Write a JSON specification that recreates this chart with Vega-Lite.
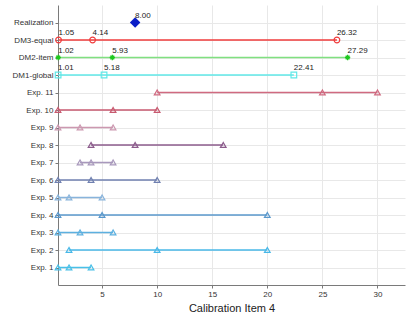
{
  "$schema": "https://vega.github.io/schema/vega-lite/v6.json",
  "width": 347,
  "height": 280,
  "autosize": {"type": "none"},
  "padding": {"left": 58, "top": 5, "right": 2, "bottom": 33},
  "background": "white",
  "config": {
    "font": "Liberation Sans",
    "view": {"stroke": null},
    "axis": {
      "domainColor": "#7a7a7a",
      "tickColor": "#7a7a7a",
      "gridColor": "#e8e8e8",
      "labelColor": "#333333",
      "labelFontSize": 8,
      "titleColor": "#222222",
      "titleFontWeight": "normal",
      "tickSize": 3
    }
  },
  "data": {
    "values": [
      {"row": "Realization", "grp": "real", "v": 8.0},
      {"row": "DM3-equal", "grp": "dm", "v": 1.05},
      {"row": "DM3-equal", "grp": "dm", "v": 4.14},
      {"row": "DM3-equal", "grp": "dm", "v": 26.32},
      {"row": "DM2-item", "grp": "dm", "v": 1.02},
      {"row": "DM2-item", "grp": "dm", "v": 5.93},
      {"row": "DM2-item", "grp": "dm", "v": 27.29},
      {"row": "DM1-global", "grp": "dm", "v": 1.01},
      {"row": "DM1-global", "grp": "dm", "v": 5.18},
      {"row": "DM1-global", "grp": "dm", "v": 22.41},
      {"row": "Exp. 11", "grp": "exp", "v": 10},
      {"row": "Exp. 11", "grp": "exp", "v": 25},
      {"row": "Exp. 11", "grp": "exp", "v": 30},
      {"row": "Exp. 10", "grp": "exp", "v": 1},
      {"row": "Exp. 10", "grp": "exp", "v": 6},
      {"row": "Exp. 10", "grp": "exp", "v": 10},
      {"row": "Exp. 9", "grp": "exp", "v": 1},
      {"row": "Exp. 9", "grp": "exp", "v": 3},
      {"row": "Exp. 9", "grp": "exp", "v": 6},
      {"row": "Exp. 8", "grp": "exp", "v": 4},
      {"row": "Exp. 8", "grp": "exp", "v": 8},
      {"row": "Exp. 8", "grp": "exp", "v": 16},
      {"row": "Exp. 7", "grp": "exp", "v": 3},
      {"row": "Exp. 7", "grp": "exp", "v": 4},
      {"row": "Exp. 7", "grp": "exp", "v": 6},
      {"row": "Exp. 6", "grp": "exp", "v": 1},
      {"row": "Exp. 6", "grp": "exp", "v": 4},
      {"row": "Exp. 6", "grp": "exp", "v": 10},
      {"row": "Exp. 5", "grp": "exp", "v": 1},
      {"row": "Exp. 5", "grp": "exp", "v": 2},
      {"row": "Exp. 5", "grp": "exp", "v": 5},
      {"row": "Exp. 4", "grp": "exp", "v": 1},
      {"row": "Exp. 4", "grp": "exp", "v": 5},
      {"row": "Exp. 4", "grp": "exp", "v": 20},
      {"row": "Exp. 3", "grp": "exp", "v": 1},
      {"row": "Exp. 3", "grp": "exp", "v": 3},
      {"row": "Exp. 3", "grp": "exp", "v": 6},
      {"row": "Exp. 2", "grp": "exp", "v": 2},
      {"row": "Exp. 2", "grp": "exp", "v": 10},
      {"row": "Exp. 2", "grp": "exp", "v": 20},
      {"row": "Exp. 1", "grp": "exp", "v": 1},
      {"row": "Exp. 1", "grp": "exp", "v": 2},
      {"row": "Exp. 1", "grp": "exp", "v": 4}
    ]
  },
  "encoding": {
    "y": {
      "field": "row",
      "type": "nominal",
      "sort": ["Realization", "DM3-equal", "DM2-item", "DM1-global", "Exp. 11", "Exp. 10", "Exp. 9", "Exp. 8", "Exp. 7", "Exp. 6", "Exp. 5", "Exp. 4", "Exp. 3", "Exp. 2", "Exp. 1"],
      "scale": {"type": "point", "padding": 1},
      "axis": {"title": null, "grid": true, "labelPadding": 2}
    },
    "x": {
      "field": "v",
      "type": "quantitative",
      "scale": {"domain": [1, 32.5], "nice": false, "zero": false},
      "axis": {"values": [5, 10, 15, 20, 25, 30], "title": "Calibration Item 4", "titleFontSize": 11, "titlePadding": 4, "grid": true}
    }
  },
  "layer": [
    {
      "transform": [{"filter": "datum.grp != 'real'"}],
      "mark": {"type": "rule", "strokeWidth": 1.5},
      "encoding": {
        "x": {"aggregate": "min", "field": "v", "type": "quantitative"},
        "x2": {"aggregate": "max", "field": "v"},
        "color": {
          "field": "row",
          "type": "nominal",
          "scale": {
            "domain": ["Realization", "DM3-equal", "DM2-item", "DM1-global", "Exp. 11", "Exp. 10", "Exp. 9", "Exp. 8", "Exp. 7", "Exp. 6", "Exp. 5", "Exp. 4", "Exp. 3", "Exp. 2", "Exp. 1"],
            "range": ["#0a1ec8", "#f03c3c", "#80e080", "#60e8e8", "#d06a80", "#c85a70", "#cc98b0", "#8c5c8c", "#a898bc", "#7080b0", "#88b4dc", "#5a98cc", "#5cb0e0", "#48b8e8", "#48c0e8"]
          },
          "legend": null
        }
      }
    },
    {
      "transform": [{"filter": "datum.grp == 'exp' || datum.row == 'DM3-equal' || datum.row == 'DM1-global'"}],
      "mark": {"type": "point", "filled": false, "strokeWidth": 1.2, "size": 32, "opacity": 1},
      "encoding": {
        "color": {"field": "row", "type": "nominal", "legend": null},
        "shape": {
          "field": "row",
          "type": "nominal",
          "scale": {
            "domain": ["DM3-equal", "DM1-global", "Exp. 11", "Exp. 10", "Exp. 9", "Exp. 8", "Exp. 7", "Exp. 6", "Exp. 5", "Exp. 4", "Exp. 3", "Exp. 2", "Exp. 1"],
            "range": ["circle", "square", "triangle-up", "triangle-up", "triangle-up", "triangle-up", "triangle-up", "triangle-up", "triangle-up", "triangle-up", "triangle-up", "triangle-up", "triangle-up"]
          },
          "legend": null
        }
      }
    },
    {
      "transform": [{"filter": "datum.row == 'DM2-item'"}],
      "mark": {"type": "point", "filled": false, "shape": "M-1,0L1,0M0,-1L0,1M-0.7,-0.7L0.7,0.7M-0.7,0.7L0.7,-0.7", "size": 28, "strokeWidth": 1.3, "color": "#1ec81e", "opacity": 1}
    },
    {
      "transform": [{"filter": "datum.grp == 'real'"}],
      "mark": {"type": "point", "filled": true, "shape": "diamond", "size": 110, "color": "#0a1ec8", "opacity": 1}
    },
    {
      "transform": [{"filter": "datum.grp != 'exp'"}],
      "mark": {"type": "text", "align": "left", "baseline": "alphabetic", "dy": -5, "fontSize": 8, "color": "#222222"},
      "encoding": {
        "text": {"field": "v", "type": "quantitative", "format": ".2f"}
      }
    }
  ]
}
